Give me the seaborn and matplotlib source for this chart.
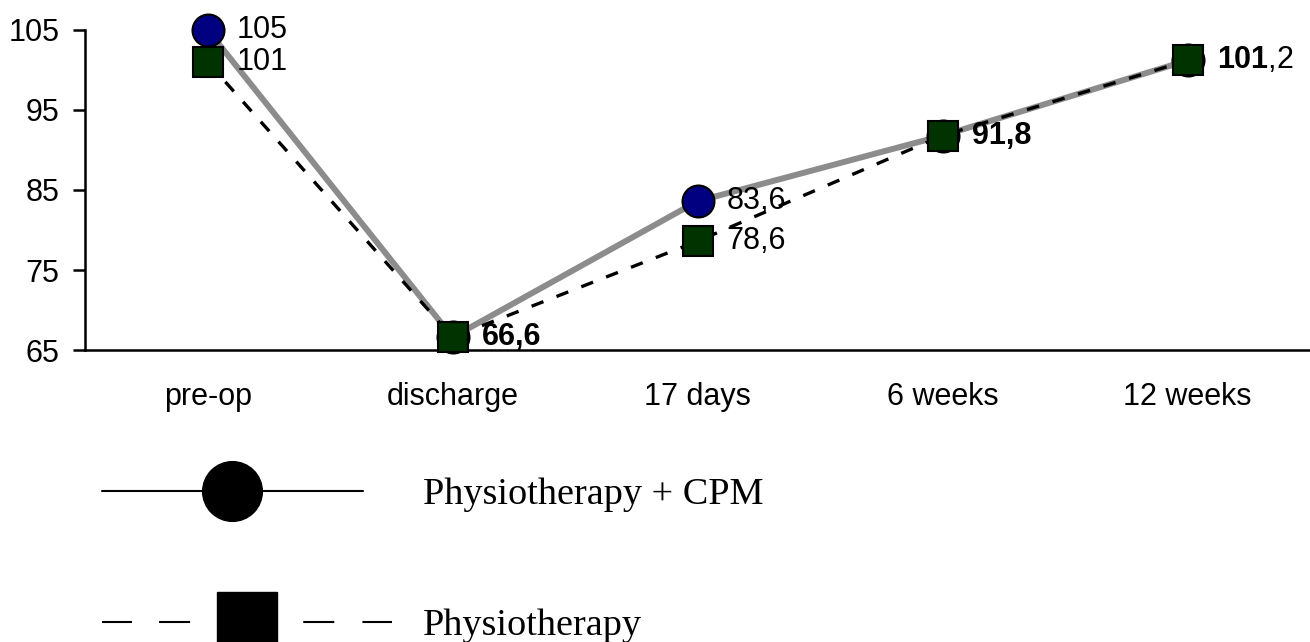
import pandas as pd
import matplotlib.pyplot as plt
from matplotlib.lines import Line2D
import seaborn as sns

# data
stages = ["pre-op", "discharge", "17 days", "6 weeks", "12 weeks"]
cpm = [105, 66.6, 83.6, 91.8, 101.2]
physio = [101, 66.6, 78.6, 91.8, 101.2]
cpm_labels = ["105", "66,6", "83,6", "91,8", r"$\mathbf{101}$,2"]
physio_labels = ["101", "66,6", "78,6", "91,8", r"$\mathbf{101}$,2"]

df = pd.DataFrame({"stage": stages, "cpm": cpm, "physio": physio})
df["pos"] = range(len(stages))

sns.set_style("white")
plt.rcParams["font.family"] = ["Liberation Sans", "DejaVu Sans"]
plt.rcParams["mathtext.fontset"] = "custom"
plt.rcParams["mathtext.rm"] = "Liberation Sans"
plt.rcParams["mathtext.bf"] = "Liberation Sans:bold"
for k in ["text.color", "xtick.color", "ytick.color", "axes.labelcolor"]:
    plt.rcParams[k] = "black"

fig = plt.figure(figsize=(13.1, 6.42), dpi=100)
ax = fig.add_axes([0.065, 0.4548, 0.935, 0.4985])

# lines
sns.lineplot(data=df, x="pos", y="cpm", ax=ax, color="#8c8c8c", linewidth=4.3, zorder=2)
sns.lineplot(data=df, x="pos", y="physio", ax=ax, color="black", linewidth=2.4, zorder=3)
ax.lines[-1].set_dashes([3.8, 4.2])
for ln in ax.lines:
    ln.set_clip_on(False)

# markers
ax.plot(df["pos"], df["cpm"], linestyle="none", marker="o", markersize=23,
        markerfacecolor="#000080", markeredgecolor="black", markeredgewidth=1.5,
        zorder=4, clip_on=False)
ax.plot(df["pos"], df["physio"], linestyle="none", marker="s", markersize=21,
        markerfacecolor="#003300", markeredgecolor="black", markeredgewidth=1.5,
        zorder=5, clip_on=False)

# value labels (where both groups coincide the label is drawn bold)
for i in range(len(stages)):
    same = cpm[i] == physio[i]
    weight = "bold" if same and "$" not in cpm_labels[i] else "normal"
    ax.annotate(cpm_labels[i], (df["pos"][i], cpm[i]), xytext=(21, 0),
                textcoords="offset points", va="center", ha="left", fontsize=22,
                fontweight=weight, zorder=6, annotation_clip=False)
    if not same:
        ax.annotate(physio_labels[i], (df["pos"][i], physio[i]), xytext=(21, 0),
                    textcoords="offset points", va="center", ha="left", fontsize=22,
                    zorder=6)

ax.set_xlim(-0.5, 4.5)
ax.set_ylim(65, 105)
ax.set_yticks([65, 75, 85, 95, 105])
ax.set_xticks(df["pos"])
ax.set_xticklabels(stages)
ax.tick_params(axis="y", direction="out", length=8.5, width=1.8, labelsize=22, pad=10, left=True)
ax.tick_params(axis="x", length=0, labelsize=22, pad=23)
ax.set_xlabel("")
ax.set_ylabel("")
for s in ["top", "right"]:
    ax.spines[s].set_visible(False)
for s in ["left", "bottom"]:
    ax.spines[s].set_linewidth(1.8)
    ax.spines[s].set_color("black")

# legend below the plot, one entry each
serif = {"family": "Liberation Serif", "size": 27.5}
h1 = Line2D([], [], color="black", linewidth=1.5, marker="o", markersize=43,
            markerfacecolor="black")
h2 = Line2D([], [], color="black", linewidth=1.5,
            linestyle=(0, (14.4, 13, 14.9, 54.3, 14.9, 13.5, 14.4, 20)),
            marker="s", markersize=43, markerfacecolor="black")
fig.legend([h1], ["Physiotherapy + CPM"], loc="center left",
           bbox_to_anchor=(102 / 1310, 1 - 495 / 642), frameon=False,
           handlelength=6.83, handletextpad=1.57, borderpad=0, borderaxespad=0, prop=serif)
fig.legend([h2], ["Physiotherapy"], loc="center left",
           bbox_to_anchor=(102 / 1310, 1 - 626 / 642), frameon=False,
           handlelength=7.6, handletextpad=0.81, borderpad=0, borderaxespad=0, prop=serif)

fig.savefig("out.png", dpi=100)
